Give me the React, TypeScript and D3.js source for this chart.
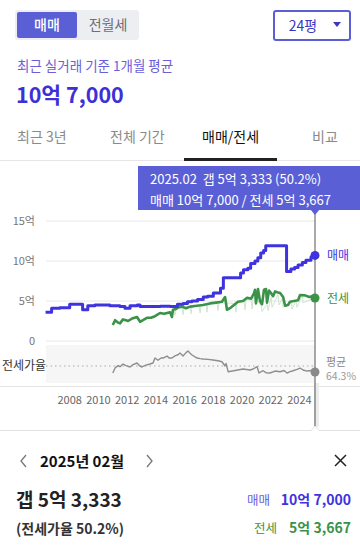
import React from "react";
import * as d3 from "d3";

// ---- data (values in 억 원, years as decimal) ----
const saleSeries: [number, number][] = [
  [2006.32, 3.6], [2006.74, 4.1], [2007.3, 4.15], [2008.0, 4.6], [2008.9, 3.9], [2009.26, 4.4],
  [2009.75, 4.5], [2010.8, 4.4], [2011.5, 4.3], [2011.85, 4.1], [2012.2, 4.4], [2012.7, 4.5],
  [2012.9, 4.3], [2013.6, 4.3], [2014.3, 4.35], [2015.0, 4.3], [2015.5, 4.6], [2015.9, 4.7],
  [2016.2, 4.9], [2016.5, 5.0], [2016.9, 5.2], [2017.3, 5.5], [2017.6, 5.6], [2018.0, 6.0],
  [2018.5, 6.6], [2018.7, 7.9], [2019.7, 7.9], [2019.9, 8.5], [2020.1, 8.9], [2020.4, 9.1],
  [2020.6, 9.7], [2020.9, 10.0], [2021.1, 10.4], [2021.3, 11.0], [2021.5, 11.3], [2021.65, 11.9],
  [2023.05, 11.9], [2023.1, 8.7], [2023.4, 9.0], [2023.66, 9.2], [2023.9, 9.5], [2024.2, 9.8],
  [2024.45, 10.1], [2024.8, 10.5], [2025.08, 10.7],
];

const jeonseSeries: [number, number][] = [
  [2011.0, 2.0], [2011.16, 2.6], [2011.36, 2.3], [2011.5, 2.2], [2011.71, 2.7], [2011.92, 2.6],
  [2012.06, 2.5], [2012.34, 2.8], [2012.69, 3.0], [2012.9, 2.4], [2013.1, 2.6], [2013.38, 2.9],
  [2013.66, 2.9], [2013.94, 3.1], [2014.29, 3.5], [2014.57, 3.4], [2014.78, 3.5], [2014.99, 3.6],
  [2015.12, 3.0], [2015.19, 3.9], [2015.4, 4.0], [2015.54, 4.2], [2015.82, 4.3], [2016.1, 4.1],
  [2016.38, 4.3], [2016.87, 4.4], [2017.28, 4.5], [2017.77, 4.7], [2018.19, 4.8], [2018.6, 4.9],
  [2018.82, 5.5], [2018.95, 3.9], [2019.16, 4.1], [2019.44, 4.5], [2019.72, 4.9], [2020.07, 5.0],
  [2020.35, 5.4], [2020.63, 5.3], [2020.84, 6.0], [2020.9, 6.4], [2020.97, 4.7], [2021.11, 6.5],
  [2021.25, 5.0], [2021.39, 4.6], [2021.53, 6.4], [2021.67, 6.5], [2021.74, 4.8], [2021.88, 6.3],
  [2022.02, 6.0], [2022.16, 5.6], [2022.3, 6.2], [2022.44, 6.1], [2022.65, 6.0], [2022.86, 5.5],
  [2023.0, 4.4], [2023.2, 4.5], [2023.34, 4.9], [2023.62, 5.0], [2023.9, 5.1], [2024.04, 5.75],
  [2024.39, 5.7], [2024.67, 5.5], [2024.88, 5.6], [2025.08, 5.37],
];

const jeonseLowSeries: [number, number][] = [
  [2015.26, 4.0], [2015.33, 3.2], [2015.4, 4.0], [2015.82, 4.2], [2015.89, 3.3], [2015.96, 4.2],
  [2016.38, 4.3], [2016.45, 3.4], [2016.52, 4.3], [2017.0, 4.4], [2017.08, 3.5], [2017.15, 4.4],
  [2017.5, 4.6], [2017.56, 3.6], [2017.63, 4.6], [2018.26, 4.8], [2018.33, 3.8], [2018.4, 4.8],
  [2019.52, 4.7], [2019.58, 3.6], [2019.65, 4.8], [2020.14, 5.0], [2020.21, 3.9], [2020.28, 5.2],
  [2020.63, 5.2], [2020.7, 4.0], [2020.77, 5.5], [2021.32, 4.5], [2021.39, 3.7], [2021.74, 4.6],
  [2021.81, 3.8], [2022.02, 5.5], [2022.09, 4.2], [2022.51, 5.8], [2022.58, 4.5], [2022.79, 5.3],
  [2022.86, 4.2], [2023.41, 4.9], [2023.48, 4.0], [2023.76, 5.0], [2023.83, 4.2], [2024.18, 5.7],
  [2024.25, 4.8], [2025.08, 5.4],
];

const ratioSeries: [number, number][] = [
  [2011.0, 48.4], [2011.16, 57.6], [2011.36, 62], [2011.5, 60], [2011.71, 65], [2011.92, 62],
  [2012.2, 59.5], [2012.41, 64], [2012.69, 66.8], [2012.9, 61], [2013.03, 59.5], [2013.31, 63],
  [2013.59, 65], [2013.8, 66.8], [2013.94, 76], [2014.15, 72], [2014.36, 76], [2014.5, 76],
  [2014.78, 79.7], [2014.92, 76], [2015.12, 76], [2015.33, 80], [2015.54, 82], [2015.68, 85.2],
  [2015.89, 79.7], [2016.1, 86], [2016.24, 89], [2016.38, 85], [2016.52, 81.6], [2016.73, 78],
  [2016.87, 76], [2017.08, 75], [2017.28, 74.2], [2017.63, 73.5], [2017.98, 72.4], [2018.33, 71],
  [2018.6, 69.2], [2018.82, 61.3], [2018.89, 66], [2019.03, 50.8], [2019.52, 53], [2020.07, 55.8],
  [2020.56, 54], [2020.77, 55.8], [2021.05, 60], [2021.18, 48.4], [2021.46, 52.6], [2021.67, 49],
  [2021.95, 48.4], [2022.3, 52], [2022.65, 50.8], [2022.93, 53], [2023.13, 48.4], [2023.34, 51],
  [2023.55, 52.6], [2023.83, 55], [2024.04, 57.6], [2024.25, 54], [2024.53, 52], [2024.81, 53],
  [2025.08, 50.2],
];

const yTicks = [0, 5, 10, 15];
const yTickLabels = ["0", "5억", "10억", "15억"];
const xTicks = [2008, 2010, 2012, 2014, 2016, 2018, 2020, 2022, 2024];
const ratioAverage = 64.3;
const selectedYear = 2025.08;

const topTabs = ["매매", "전월세"];
const periodTabs = ["최근 3년", "전체 기간", "매매/전세", "비교"];

const FONT = "'Noto Sans CJK KR', 'Noto Sans', sans-serif";
const BLUE = "#3f33e0";
const GREEN = "#3b9248";
const ACCENT = "#5a5fd6";

export default function App() {
  const x = d3.scaleLinear().domain([2006.35, 2025.08]).range([46, 315]);
  const y = d3.scaleLinear().domain([0, 15]).range([341, 221]);
  const yr = d3.scaleLinear().domain([30, 100]).range([383, 345]);

  const stepLine = d3
    .line<[number, number]>()
    .x((d) => x(d[0]))
    .y((d) => y(d[1]))
    .curve(d3.curveStepAfter);
  const linLine = d3
    .line<[number, number]>()
    .x((d) => x(d[0]))
    .y((d) => y(d[1]));
  const ratioLine = d3
    .line<[number, number]>()
    .x((d) => x(d[0]))
    .y((d) => yr(d[1]));

  const lastSale = saleSeries[saleSeries.length - 1];
  const lastJeonse = jeonseSeries[jeonseSeries.length - 1];
  const lastRatio = ratioSeries[ratioSeries.length - 1];
  const sx = x(selectedYear);

  const periodX = [17, 110, 202, 312];

  return (
    <svg
      width={360}
      height={553}
      style={{ position: "absolute", left: 0, top: 0, fontFamily: FONT }}
    >
      <rect x={0} y={0} width={360} height={553} fill="#fff" />
      {/* top toggle */}
      <rect x={15} y={10} width={124} height={30} rx={3} fill="#eceef1" />
      <rect x={17} y={12} width={60} height={26} rx={2} fill={ACCENT} />
      <text x={47} y={30} textAnchor="middle" fontSize={14} fill="#fff" fontWeight={500}>
        {topTabs[0]}
      </text>
      <text x={108} y={30} textAnchor="middle" fontSize={14} fill="#6b6f7a">
        {topTabs[1]}
      </text>
      {/* dropdown */}
      <rect x={274} y={11} width={76} height={29} rx={2} fill="#fff" stroke={ACCENT} strokeWidth={2} />
      <text x={303} y={31} textAnchor="middle" fontSize={14} fill="#3b35c5">
        24평
      </text>
      <path d="M333,22 L341,22 L337,27 Z" fill="#3b35c5" />

      <text x={17} y={71} fontSize={13.5} fill="#6a5edb">
        최근 실거래 기준 1개월 평균
      </text>
      <text x={16} y={103} fontSize={21.5} fontWeight={700} fill="#3c30d6">
        10억 7,000
      </text>

      {/* period tabs */}
      {periodTabs.map((t, i) => (
        <text key={t} x={periodX[i]} y={142} fontSize={14} fill={i === 2 ? "#111" : "#8a8a8a"}>
          {t}
        </text>
      ))}
      <line x1={0} x2={360} y1={160.5} y2={160.5} stroke="#e6e6e6" />
      <rect x={184} y={158} width={93} height={3} fill="#222" />

      {/* grid */}
      {yTicks.map((t, i) => (
        <g key={t}>
          <line x1={46} x2={315} y1={y(t)} y2={y(t)} stroke="#e8e8e8" strokeWidth={1} />
          <text x={35} y={y(t) + 4} textAnchor="end" fontSize={11} fill="#777">
            {yTickLabels[i]}
          </text>
        </g>
      ))}

      {/* ratio panel */}
      <rect x={46} y={345} width={269} height={38} fill="#f6f6f6" />
      <line
        x1={46}
        x2={315}
        y1={366}
        y2={366}
        stroke="#aaa"
        strokeWidth={1}
        strokeDasharray="1.5,3"
      />
      <text x={2} y={370} fontSize={12} fill="#333">
        전세가율
      </text>
      <line x1={0} x2={360} y1={386.5} y2={386.5} stroke="#e4e4e4" />

      {/* hover band */}
      <rect x={sx - 1} y={383} width={5} height={44} fill="#ececec" />

      {/* lines */}
      <path d={linLine(jeonseLowSeries) || ""} fill="none" stroke="#cfe5d3" strokeWidth={1} />
      <path d={linLine(jeonseSeries) || ""} fill="none" stroke={GREEN} strokeWidth={2.6} strokeLinejoin="round" />
      <path d={stepLine(saleSeries) || ""} fill="none" stroke={BLUE} strokeWidth={3} strokeLinejoin="round" />
      <path d={ratioLine(ratioSeries) || ""} fill="none" stroke="#8e8e8e" strokeWidth={1.4} strokeLinejoin="round" />

      {/* selection line */}
      <line x1={sx} x2={sx} y1={212} y2={427} stroke="#555" strokeWidth={1} />
      <circle cx={x(lastSale[0])} cy={y(lastSale[1])} r={4.5} fill={BLUE} />
      <circle cx={x(lastJeonse[0])} cy={y(lastJeonse[1])} r={4.5} fill={GREEN} />
      <circle cx={x(lastRatio[0])} cy={yr(lastRatio[1])} r={4.5} fill="#8a8a8a" />
      <text x={327} y={y(lastSale[1]) + 4.5} fontSize={12} fill={BLUE}>
        매매
      </text>
      <text x={327} y={y(lastJeonse[1]) + 4.5} fontSize={12} fill={GREEN}>
        전세
      </text>
      <text x={326} y={366} fontSize={11} fill="#888">
        평균
      </text>
      <text x={326} y={380} fontSize={10.5} fill="#999">
        {ratioAverage}%
      </text>

      {/* x axis labels */}
      {xTicks.map((t) => (
        <text key={t} x={x(t)} y={404} textAnchor="middle" fontSize={11} fill="#666">
          {t}
        </text>
      ))}

      {/* tooltip */}
      <rect x={138} y={166} width={222} height={44} fill={ACCENT} />
      <path d={`M${sx - 5},209 L${sx + 5},209 L${sx},215 Z`} fill={ACCENT} />
      <text x={150} y={184} fontSize={13} fill="#fff" style={{ whiteSpace: "pre" }}>
        {"2025.02  갭 5억 3,333 (50.2%)"}
      </text>
      <text x={150} y={205} fontSize={13} fill="#fff">
        매매 10억 7,000 / 전세 5억 3,667
      </text>

      {/* bottom panel */}
      <path
        d={`M0,430.5 L${sx - 4},430.5 L${sx},426 L${sx + 4},430.5 L360,430.5`}
        fill="#fff"
        stroke="#e2e2e2"
      />
      <path d="M26,455 L21,461 L26,467" fill="none" stroke="#777" strokeWidth={1.3} />
      <text x={40} y={467} fontSize={15} fontWeight={700} fill="#111">
        2025년 02월
      </text>
      <path d="M147,455 L152,461 L147,467" fill="none" stroke="#777" strokeWidth={1.3} />
      <path d="M335,455 L346,466 M346,455 L335,466" stroke="#222" strokeWidth={1.5} />

      <text x={16} y={507} fontSize={19} fontWeight={700} fill="#222">
        갭 5억 3,333
      </text>
      <text x={16} y={534} fontSize={14} fontWeight={700} fill="#333">
        (전세가율 50.2%)
      </text>
      <text x={270} y={505} textAnchor="end" fontSize={12.5} fill="#6a5edb">
        매매
      </text>
      <text x={351} y={505} textAnchor="end" fontSize={14} fontWeight={700} fill={BLUE}>
        10억 7,000
      </text>
      <text x={277} y={533} textAnchor="end" fontSize={12.5} fill={GREEN}>
        전세
      </text>
      <text x={351} y={533} textAnchor="end" fontSize={14} fontWeight={700} fill={GREEN}>
        5억 3,667
      </text>
    </svg>
  );
}
